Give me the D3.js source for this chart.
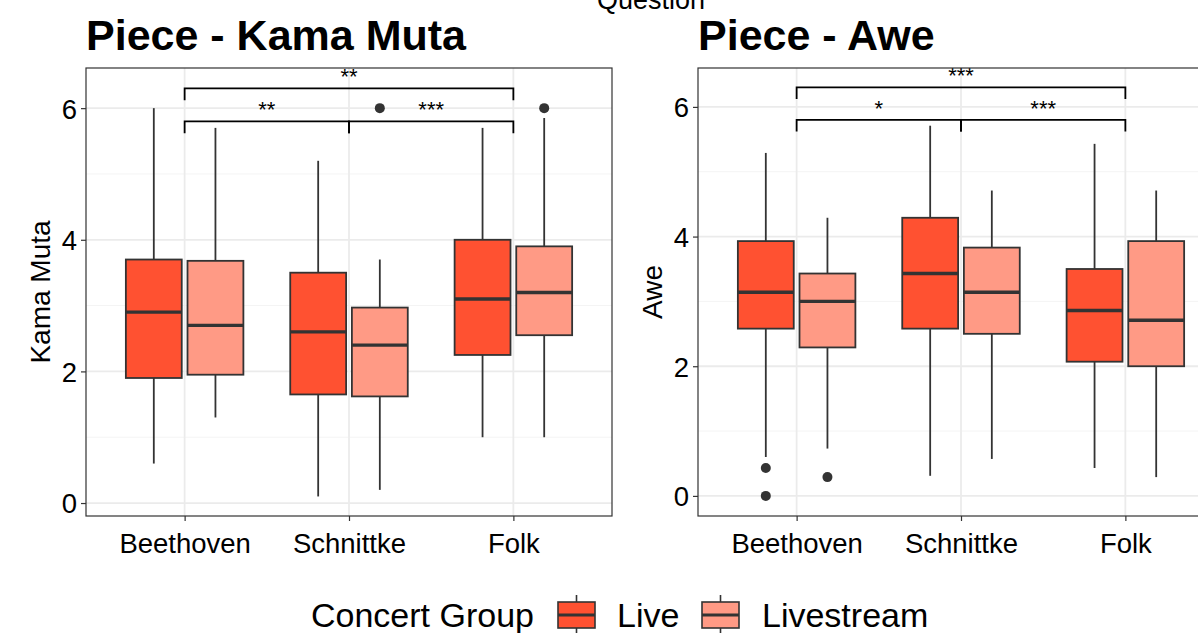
<!DOCTYPE html>
<html>
<head>
<meta charset="utf-8">
<script src="https://cdn.jsdelivr.net/npm/d3@7"></script>
<style>
  body { margin: 0; background: #fff; }
  text { font-family: "Liberation Sans", Arial, sans-serif; }
</style>
</head>
<body>
<div id="chart"></div>
<script>
// categories and groups
var pieces = ["Beethoven", "Schnittke", "Folk"];
var groups = ["Live", "Livestream"];
var groupColors = ["#FF5131", "#FF9A85"];

// box stats per piece: [lower whisker, q1, median, q3, upper whisker]
var kamaLive   = [[0.6, 1.9, 2.9, 3.7, 6.0], [0.1, 1.65, 2.6, 3.5, 5.2], [1.0, 2.25, 3.1, 4.0, 5.7]];
var kamaStream = [[1.3, 1.95, 2.7, 3.68, 5.7], [0.2, 1.62, 2.4, 2.97, 3.7], [1.0, 2.55, 3.2, 3.9, 5.85]];
var kamaOutLive   = [[], [], []];
var kamaOutStream = [[], [6.0], [6.0]];

var aweLive   = [[0.6, 2.58, 3.14, 3.93, 5.29], [0.31, 2.58, 3.43, 4.29, 5.71], [0.43, 2.07, 2.86, 3.5, 5.43]];
var aweStream = [[0.73, 2.29, 3.0, 3.43, 4.29], [0.57, 2.5, 3.14, 3.83, 4.71], [0.29, 2.0, 2.71, 3.93, 4.71]];
var aweOutLive   = [[0.43, 0], [], []];
var aweOutStream = [[0.29], [], []];

// significance brackets: [from piece, to piece, y level, label]
var kamaSig = [[0, 2, 6.3, "**"], [0, 1, 5.8, "**"], [1, 2, 5.8, "***"]];
var aweSig  = [[0, 2, 6.3, "***"], [0, 1, 5.8, "*"], [1, 2, 5.8, "***"]];

var W = 1198, H = 633;
var svg = d3.select("#chart").append("svg")
    .attr("width", W)
    .attr("height", H);

// top strip text (cut off at the top, as in the original)
svg.append("text")
    .attr("x", 651).attr("y", 9)
    .attr("text-anchor", "middle")
    .style("font-size", "27px")
    .text("Question");

function drawPanel(opt) {
  var top = 68, bottom = 516;
  var x = d3.scaleLinear().domain([0.4, 3.6]).range([opt.left, opt.left + 526]);
  var y = d3.scaleLinear().domain(opt.yDomain).range([bottom, top]);
  var unit = x(2) - x(1);
  var g = svg.append("g");

  // title
  g.append("text")
      .attr("x", opt.left).attr("y", 50)
      .style("font-size", "43px").style("font-weight", "bold")
      .text(opt.title);

  // minor grid
  [1, 3, 5].forEach(function(v) {
    g.append("line")
        .attr("x1", opt.left).attr("x2", opt.left + 526)
        .attr("y1", y(v)).attr("y2", y(v))
        .attr("stroke", "#F4F4F4").attr("stroke-width", 1);
  });
  // major grid
  [0, 2, 4, 6].forEach(function(v) {
    g.append("line")
        .attr("x1", opt.left).attr("x2", opt.left + 526)
        .attr("y1", y(v)).attr("y2", y(v))
        .attr("stroke", "#EBEBEB").attr("stroke-width", 1.8);
  });
  pieces.forEach(function(p, i) {
    g.append("line")
        .attr("x1", x(i + 1)).attr("x2", x(i + 1))
        .attr("y1", top).attr("y2", bottom)
        .attr("stroke", "#EBEBEB").attr("stroke-width", 1.8);
  });

  // boxes
  var sets = [[opt.live, opt.outLive], [opt.stream, opt.outStream]];
  sets.forEach(function(s, gi) {
    var off = (gi === 0 ? -0.1875 : 0.1875) * unit;
    var bw = 0.34 * unit;
    s[0].forEach(function(st, i) {
      var cx = x(i + 1) + off;
      g.append("line")
          .attr("x1", cx).attr("x2", cx)
          .attr("y1", y(st[0])).attr("y2", y(st[1]))
          .attr("stroke", "#333").attr("stroke-width", 1.8);
      g.append("line")
          .attr("x1", cx).attr("x2", cx)
          .attr("y1", y(st[3])).attr("y2", y(st[4]))
          .attr("stroke", "#333").attr("stroke-width", 1.8);
      g.append("rect")
          .attr("x", cx - bw / 2).attr("width", bw)
          .attr("y", y(st[3])).attr("height", y(st[1]) - y(st[3]))
          .attr("fill", groupColors[gi])
          .attr("stroke", "#333").attr("stroke-width", 1.8);
      g.append("line")
          .attr("x1", cx - bw / 2).attr("x2", cx + bw / 2)
          .attr("y1", y(st[2])).attr("y2", y(st[2]))
          .attr("stroke", "#333").attr("stroke-width", 3.4);
      s[1][i].forEach(function(o) {
        g.append("circle")
            .attr("cx", cx).attr("cy", y(o)).attr("r", 5)
            .attr("fill", "#333");
      });
    });
  });

  // significance brackets
  var tick = 0.18;
  opt.sig.forEach(function(b) {
    var x1 = x(b[0] + 1), x2 = x(b[1] + 1);
    g.append("path")
        .attr("d", "M" + x1 + "," + y(b[2] - tick) + "V" + y(b[2]) + "H" + x2 + "V" + y(b[2] - tick))
        .attr("fill", "none").attr("stroke", "#000").attr("stroke-width", 1.8);
    g.append("text")
        .attr("x", (x1 + x2) / 2).attr("y", y(b[2]) - 4)
        .attr("text-anchor", "middle")
        .style("font-size", "22px")
        .text(b[3]);
  });

  // panel border
  g.append("rect")
      .attr("x", opt.left).attr("y", top)
      .attr("width", 526).attr("height", bottom - top)
      .attr("fill", "none").attr("stroke", "#333").attr("stroke-width", 1.2);

  // axes
  var yAxis = g.append("g")
      .attr("transform", "translate(" + opt.left + ",0)")
      .call(d3.axisLeft(y).tickValues([0, 2, 4, 6]).tickFormat(d3.format("d")).tickSize(5).tickPadding(4));
  var xAxis = g.append("g")
      .attr("transform", "translate(0," + bottom + ")")
      .call(d3.axisBottom(x).tickValues([1, 2, 3]).tickFormat(function(d) { return pieces[d - 1]; })
        .tickSize(5).tickPadding(6));
  [yAxis, xAxis].forEach(function(a) {
    a.select(".domain").remove();
    a.selectAll(".tick line").attr("stroke", "#333").attr("stroke-width", 1.2);
    a.selectAll(".tick text")
        .attr("fill", "#000")
        .style("font-size", "27.5px")
        .style("font-family", "'Liberation Sans', Arial, sans-serif");
  });
  yAxis.selectAll(".tick text").attr("dy", "0.36em");
  xAxis.selectAll(".tick text").attr("dy", "0.95em");

  // y axis title
  g.append("text")
      .attr("transform", "translate(" + opt.titleX + "," + ((top + bottom) / 2) + ") rotate(-90)")
      .attr("text-anchor", "middle")
      .style("font-size", "28px")
      .text(opt.yTitle);
}

drawPanel({
  left: 86, title: "Piece - Kama Muta", yTitle: "Kama Muta", titleX: 50,
  yDomain: [-0.197, 6.61],
  live: kamaLive, stream: kamaStream, outLive: kamaOutLive, outStream: kamaOutStream,
  sig: kamaSig
});
drawPanel({
  left: 698, title: "Piece - Awe", yTitle: "Awe", titleX: 662,
  yDomain: [-0.31, 6.60],
  live: aweLive, stream: aweStream, outLive: aweOutLive, outStream: aweOutStream,
  sig: aweSig
});

// legend
var leg = svg.append("g");
leg.append("text")
    .attr("x", 311).attr("y", 627)
    .style("font-size", "34px")
    .text("Concert Group");
var keyX = [558, 702], labX = [617, 762];
groups.forEach(function(gr, i) {
  var kx = keyX[i], kw = 37;
  leg.append("line")
      .attr("x1", kx + kw / 2).attr("x2", kx + kw / 2)
      .attr("y1", 595).attr("y2", 633)
      .attr("stroke", "#333").attr("stroke-width", 1.6);
  leg.append("rect")
      .attr("x", kx).attr("y", 602).attr("width", kw).attr("height", 26)
      .attr("fill", groupColors[i]).attr("stroke", "#333").attr("stroke-width", 1.6);
  leg.append("line")
      .attr("x1", kx).attr("x2", kx + kw)
      .attr("y1", 615).attr("y2", 615)
      .attr("stroke", "#333").attr("stroke-width", 3);
  leg.append("text")
      .attr("x", labX[i]).attr("y", 627)
      .style("font-size", "34px")
      .text(gr);
});
</script>
</body>
</html>
